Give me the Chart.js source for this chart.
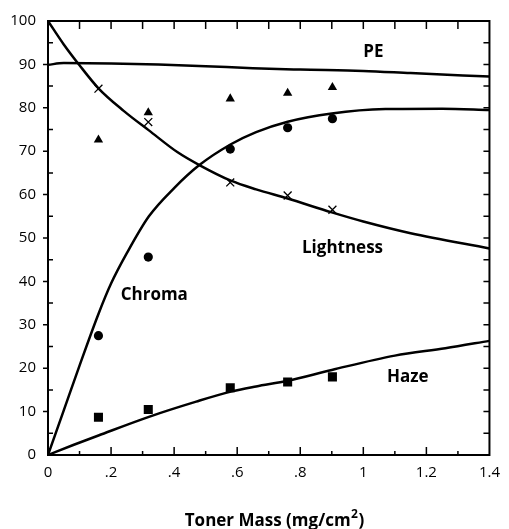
<!DOCTYPE html>
<html><head><meta charset="utf-8">
<script src="https://cdn.jsdelivr.net/npm/chart.js@4"></script>
<style>html,body{margin:0;padding:0;background:#fff}</style>
</head><body>
<canvas id="c" width="509" height="529"></canvas>
<script>
// fitted curves, [toner mass, value]
const peCurve = [[0,89.9],[0.05,90.3],[0.2,90.2],[0.35,90.0],[0.5,89.6],[0.65,89.1],[0.8,88.8],[1.0,88.5],[1.15,88.0],[1.4,87.2]];
const lightnessCurve = [[0,100],[0.05,94.6],[0.1,89.8],[0.16,84.5],[0.24,79.3],[0.32,74.8],[0.41,69.8],[0.48,66.8],[0.58,63.2],[0.66,61.2],[0.76,59.1],[0.9,55.9],[1.0,53.8],[1.15,51.1],[1.4,47.6]];
const chromaCurve = [[0,0],[0.05,10.3],[0.1,20.6],[0.16,32.5],[0.2,39.5],[0.25,46.5],[0.32,55],[0.4,61.5],[0.48,66.8],[0.58,71.6],[0.66,74.4],[0.76,76.8],[0.9,78.7],[1.07,79.7],[1.25,79.8],[1.4,79.5]];
const hazeCurve = [[0,0],[0.08,2.3],[0.16,4.5],[0.32,8.8],[0.47,12.3],[0.58,14.6],[0.66,15.8],[0.76,17.1],[0.9,19.6],[1.1,22.9],[1.26,24.6],[1.4,26.3]];

// measured points
const massPts = [0.16, 0.318, 0.578, 0.76, 0.902];
const peMeasured = [72.6, 78.9, 82.1, 83.4, 84.7];
const lightnessMeasured = [84.4, 76.7, 62.8, 59.8, 56.5];
const chromaMeasured = [27.5, 45.6, 70.5, 75.4, 77.5];
const hazeMeasured = [8.7, 10.5, 15.5, 16.8, 18.0];

const xTicks = [0, 0.2, 0.4, 0.6, 0.8, 1, 1.2, 1.4];
const curveLabels = [['PE',1.032,92.9],['Lightness',0.934,47.7],['Chroma',0.337,36.9],['Haze',1.141,18.0]];

const pts = a => a.map(p => ({x:p[0], y:p[1]}));
const meas = v => massPts.map((m,i) => ({x:m, y:v[i]}));
const curve = d => ({data:pts(d), showLine:true, borderColor:'#000', borderWidth:2.5, pointRadius:0, cubicInterpolationMode:'monotone', fill:false});
const mark = (d, style, r, filled) => ({data:d, showLine:false, pointStyle:style, pointRadius:r, pointHoverRadius:r,
  backgroundColor:'#000', borderColor:'#000', borderWidth: filled ? 0 : 1.3});

const framePlugin = {
  id:'frame',
  afterDatasetsDraw(chart){
    const {ctx, chartArea:a, scales:{x,y}} = chart;
    ctx.save();
    ctx.strokeStyle = '#000';
    ctx.lineWidth = 2;
    ctx.strokeRect(a.left, a.top, a.right-a.left, a.bottom-a.top);
    ctx.lineWidth = 1.5;
    ctx.beginPath();
    for(let i=1;i<14;i++){
      const px = x.getPixelForValue(i/10);
      const len = i%2===0 ? 8 : 4;
      ctx.moveTo(px, a.bottom); ctx.lineTo(px, a.bottom-len);
      ctx.moveTo(px, a.top); ctx.lineTo(px, a.top+8);
    }
    for(let j=5;j<100;j+=5){
      const py = y.getPixelForValue(j);
      if(j%10===0){ ctx.moveTo(a.left, py); ctx.lineTo(a.left-5, py); }
      else { ctx.moveTo(a.left, py); ctx.lineTo(a.left+5, py); }
      ctx.moveTo(a.right, py); ctx.lineTo(a.right-6, py);
    }
    ctx.stroke();
    // curve names
    ctx.fillStyle = '#000';
    ctx.font = 'bold 17px "Open Sans"';
    ctx.textAlign = 'center'; ctx.textBaseline = 'middle';
    curveLabels.forEach(([t,vx,vy]) => ctx.fillText(t, x.getPixelForValue(vx), y.getPixelForValue(vy)));
    // axis title with superscript
    const main = 'Toner Mass (mg/cm', sup = '2', end = ')';
    ctx.textAlign = 'left'; ctx.textBaseline = 'alphabetic';
    ctx.font = 'bold 17px "Open Sans"';
    const w1 = ctx.measureText(main).width, w3 = ctx.measureText(end).width;
    ctx.font = 'bold 12px "Open Sans"';
    const w2 = ctx.measureText(sup).width;
    let sx = 274 - (w1+w2+w3)/2;
    const base = 526;
    ctx.font = 'bold 17px "Open Sans"';
    ctx.fillText(main, sx, base);
    ctx.font = 'bold 12px "Open Sans"';
    ctx.fillText(sup, sx+w1+0.5, base-8);
    ctx.font = 'bold 17px "Open Sans"';
    ctx.fillText(end, sx+w1+w2+1, base);
    ctx.restore();
  }
};

new Chart(document.getElementById('c').getContext('2d'), {
  type:'scatter',
  data:{ datasets:[
    curve(peCurve), curve(lightnessCurve), curve(chromaCurve), curve(hazeCurve),
    mark(meas(peMeasured), 'triangle', 5.4, true),
    mark(meas(lightnessMeasured), 'crossRot', 5.6, false),
    mark(meas(chromaMeasured), 'circle', 4.6, true),
    mark(meas(hazeMeasured), 'rect', 6.4, true)
  ]},
  options:{
    responsive:false, animation:false, devicePixelRatio:1,
    layout:{ padding:{ top:21, right:13, left:0, bottom:0 } },
    plugins:{ legend:{display:false}, tooltip:{enabled:false} },
    scales:{
      x:{ type:'linear', min:0, max:1.4,
        afterBuildTicks: s => { s.ticks = xTicks.map(v => ({value:v})); },
        afterFit: s => { s.height = 74; },
        grid:{display:false, drawTicks:false}, border:{display:false},
        ticks:{ padding:9, color:'#000', font:{family:'"Open Sans"', size:15},
          callback: v => { const r = Math.round(v*10)/10; return r===0 ? '0' : String(r).replace(/^0\./,'.'); } } },
      y:{ min:0, max:100,
        afterFit: s => { s.width = 48; },
        grid:{display:false, drawTicks:false}, border:{display:false},
        ticks:{ stepSize:10, padding:12, color:'#000', font:{family:'"Open Sans"', size:15} } }
    }
  },
  plugins:[framePlugin]
});
</script>
</body></html>
